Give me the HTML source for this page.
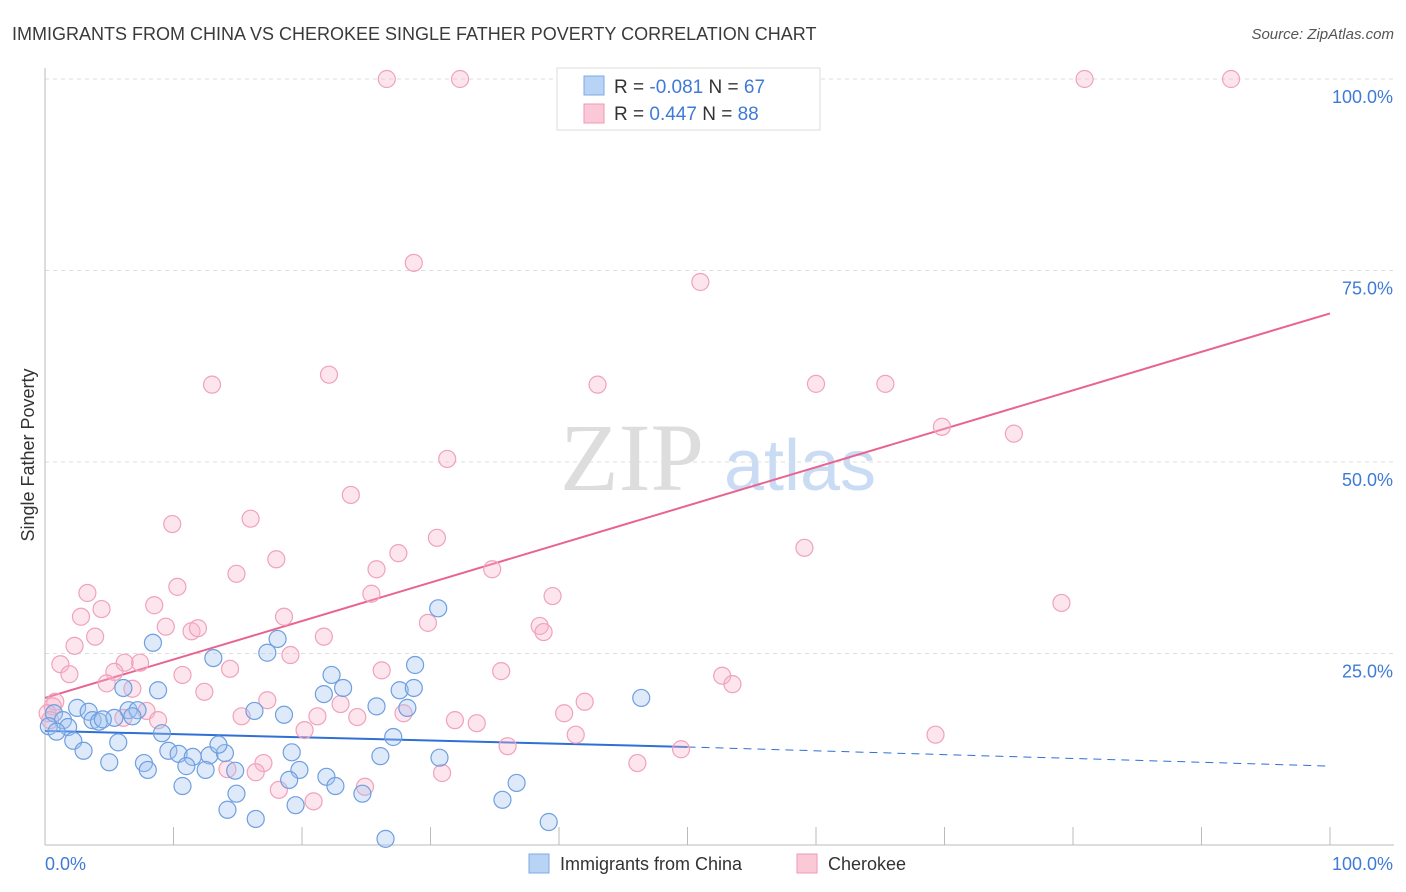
<!DOCTYPE html>
<html><head><meta charset="utf-8"><style>
body{margin:0;background:#fff;font-family:"Liberation Sans",sans-serif}
svg{display:block}
</style></head><body>
<svg width="1406" height="892" xmlns="http://www.w3.org/2000/svg">
<text x="12" y="40" font-size="18" fill="#3a3a3a">IMMIGRANTS FROM CHINA VS CHEROKEE SINGLE FATHER POVERTY CORRELATION CHART</text>
<text x="1394" y="39" font-size="15" fill="#555" text-anchor="end" font-style="italic">Source: ZipAtlas.com</text>
<g>
<text x="632" y="490" font-size="96" font-family="Liberation Serif,serif" fill="#ddd" text-anchor="middle">ZIP</text>
<text x="800" y="490" font-size="72" fill="#c9dcf3" text-anchor="middle">atlas</text>
</g>
<g id="grid"></g>
<g id="axes"></g>
<g id="lines"></g>
<g id="pts"></g>
<text x="34" y="455" font-size="18" fill="#333" text-anchor="middle" transform="rotate(-90 34 455)">Single Father Poverty</text>
<text x="45" y="870" font-size="18" fill="#3f7bd6">0.0%</text>
<text x="1393" y="870" font-size="18" fill="#3f7bd6" text-anchor="end">100.0%</text>
<g>
<rect x="557" y="68" width="263" height="62" fill="#fff" stroke="#ddd"/>
<rect x="584" y="76" width="20" height="19" fill="#b9d3f5" stroke="#7ea8e6"/>
<rect x="584" y="104" width="20" height="19" fill="#fbc8d8" stroke="#ef9ab5"/>
<text x="614" y="93" font-size="19" fill="#333">R = <tspan fill="#3f7bd6">-0.081</tspan>   N = <tspan fill="#3f7bd6">67</tspan></text>
<text x="614" y="120" font-size="19" fill="#333">R =  <tspan fill="#3f7bd6">0.447</tspan>   N = <tspan fill="#3f7bd6">88</tspan></text>
</g>
<g>
<rect x="529" y="854" width="20" height="19" fill="#b9d3f5" stroke="#7ea8e6"/>
<text x="560" y="870" font-size="18" fill="#333">Immigrants from China</text>
<rect x="797" y="854" width="20" height="19" fill="#fbc8d8" stroke="#ef9ab5"/>
<text x="828" y="870" font-size="18" fill="#333">Cherokee</text>
</g>
</svg>
<script>
const yTicks=[25,50,75,100];
const yTickLabels=["25.0%","50.0%","75.0%","100.0%"];
const xTicks=[0,10,20,30,40,50,60,70,80,90,100];
const pinkPx=[[387,79],[460,79],[712,79],[1084,79],[1231,79],[414,263],[700,282],[212,385],[329,375],[597,385],[816,384],[886,384],[942,427],[1014,434],[447,459],[351,495],[172,524],[250,519],[437,538],[398,553],[276,559],[236,574],[377,569],[492,569],[804,548],[177,587],[88,593],[372,594],[553,596],[1061,603],[101,609],[154,605],[81,617],[284,617],[428,623],[166,627],[191,631],[198,628],[540,626],[544,632],[95,637],[324,637],[74,646],[291,655],[61,664],[125,663],[140,663],[230,669],[382,670],[501,671],[114,672],[69,674],[183,675],[722,676],[732,684],[107,683],[204,692],[133,689],[267,700],[340,704],[585,702],[55,702],[53,706],[146,711],[124,718],[241,716],[318,716],[357,717],[403,713],[564,713],[158,720],[455,720],[477,723],[576,735],[304,730],[507,746],[681,749],[935,735],[264,763],[227,769],[256,772],[637,763],[442,773],[365,787],[279,790],[314,801],[47,713],[50,720]];
const bluePx=[[438,608],[153,643],[278,639],[267,653],[213,658],[415,665],[332,675],[123,688],[158,690],[343,688],[324,694],[400,690],[414,688],[641,698],[77,708],[89,712],[128,710],[138,710],[254,711],[284,715],[377,706],[407,708],[54,713],[63,720],[93,720],[99,722],[114,718],[133,716],[103,719],[49,726],[68,727],[56,732],[162,733],[73,741],[118,742],[393,737],[84,751],[169,751],[178,754],[193,757],[210,755],[225,753],[219,745],[292,752],[381,756],[439,758],[109,762],[144,763],[148,770],[186,766],[205,770],[235,771],[300,770],[326,777],[289,780],[336,786],[183,786],[517,783],[237,794],[362,794],[503,800],[296,805],[228,810],[256,819],[549,822],[385,839]];
// data values in percent
const cherokeeX=pinkPx.map(p=>+((p[0]-45)/12.85).toFixed(1));
const cherokeeY=pinkPx.map(p=>+((845-p[1])/7.66).toFixed(1));
const chinaX=bluePx.map(p=>+((p[0]-45)/12.85).toFixed(1));
const chinaY=bluePx.map(p=>+((845-p[1])/7.66).toFixed(1));
const chinaTrend=[14.9,12.8,10.3]; // at x=0,50,100
const cherokeeTrend=[19.2,69.4]; // at x=0,100
const X0=45,X1=1330,Y0=845,Y1=79;
const sx=v=>X0+(X1-X0)*v/100, sy=v=>Y0-(Y0-Y1)*v/100;
const NS="http://www.w3.org/2000/svg";
function mk(p,t,a){const e=document.createElementNS(NS,t);for(const k in a)e.setAttribute(k,a[k]);p.appendChild(e);return e;}
const grid=document.getElementById('grid');
yTicks.forEach((t,i)=>{
 const l=mk(grid,'line',{x1:X0,x2:1394,y1:sy(t),y2:sy(t),stroke:'#ddd','stroke-dasharray':'4,4'});
 
 
 const tx=mk(grid,'text',{x:1393,y:sy(t)+24,'font-size':18,fill:'#3f7bd6','text-anchor':'end'});
 tx.textContent=yTickLabels[i];
 
 
});
const ax=document.getElementById('axes');
mk(ax,'line',{x1:X0,x2:X0,y1:68,y2:Y0,stroke:'#bbb'});
mk(ax,'line',{x1:X0,x2:1394,y1:Y0,y2:Y0,stroke:'#bbb'});
xTicks.forEach(t=>{const l=mk(ax,'line',{x1:sx(t),x2:sx(t),y1:827,y2:Y0,stroke:'#bbb'});
 
 });
const pts=document.getElementById('pts');
cherokeeX.forEach((x,i)=>{const c=mk(pts,'circle',{cx:sx(x),cy:sy(cherokeeY[i]),r:8.5,fill:'rgba(248,180,202,0.35)',stroke:'#f0a2bb','stroke-width':1.2});
 
 });
chinaX.forEach((x,i)=>{const c=mk(pts,'circle',{cx:sx(x),cy:sy(chinaY[i]),r:8.5,fill:'rgba(160,196,240,0.35)',stroke:'#6e9fe0','stroke-width':1.2});
 
 });
const ln=document.getElementById('lines');
let a=mk(ln,'line',{x1:sx(0),y1:sy(chinaTrend[0]),x2:sx(50),y2:sy(chinaTrend[1]),stroke:'#2f6fd6','stroke-width':2});


a=mk(ln,'line',{x1:sx(50),y1:sy(chinaTrend[1]),x2:sx(100),y2:sy(chinaTrend[2]),stroke:'#2f6fd6','stroke-width':1,'stroke-dasharray':'8,6'});


a=mk(ln,'line',{x1:sx(0),y1:sy(cherokeeTrend[0]),x2:sx(100),y2:sy(cherokeeTrend[1]),stroke:'#e8648f','stroke-width':2});


</script>
</body></html>
